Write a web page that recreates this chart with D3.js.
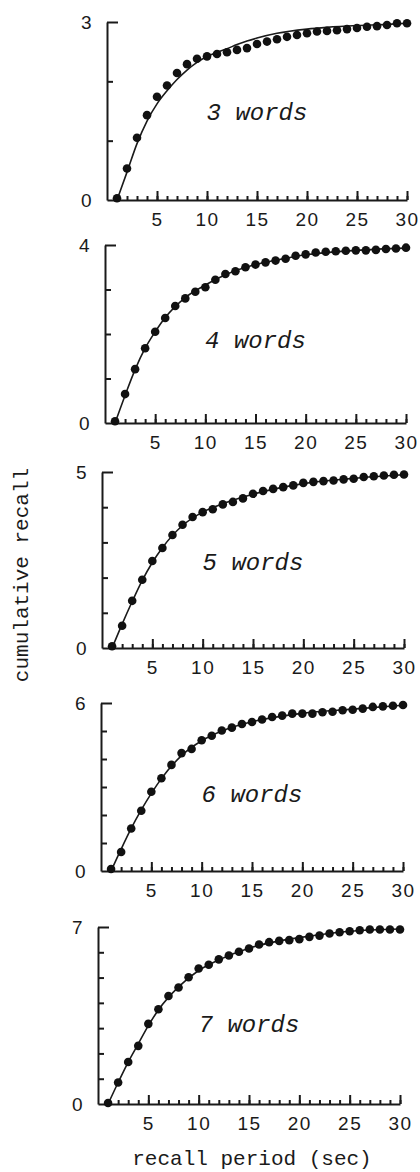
<!DOCTYPE html>
<html lang="en">
<head>
<meta charset="utf-8">
<title>cumulative recall</title>
<script src="https://d3js.org/d3.v7.min.js"></script>
<style>
  body { margin: 0; background: #fff; }
  svg { display: block; }
  .axis path, .axis line { stroke: #1a1a1a; stroke-width: 2px; }
  .axis text { font-family: "Liberation Sans", Arial, sans-serif; font-size: 19px; fill: #1a1a1a; letter-spacing: 1.5px; }
  .fit { fill: none; stroke: #1a1a1a; stroke-width: 1.6px; }
  .dot { fill: #111; }
  .words { font-family: "Liberation Mono", monospace; font-style: italic; font-size: 24px; fill: #1a1a1a; }
  .title { font-family: "Liberation Mono", monospace; font-size: 21px; fill: #1a1a1a; }
</style>
</head>
<body>
<svg width="420" height="1172"></svg>
<script>
// recall period, seconds
var seconds = d3.range(1, 31);
var xTicks = [5, 10, 15, 20, 25, 30];
var listLengths = [3, 4, 5, 6, 7];

// observed cumulative recall (dots), one value per second
var recall3 = [0.03, 0.53, 1.05, 1.43, 1.74, 1.93, 2.14, 2.29, 2.38, 2.42, 2.46, 2.49, 2.53, 2.56, 2.63,
               2.67, 2.71, 2.75, 2.78, 2.81, 2.84, 2.85, 2.86, 2.88, 2.90, 2.92, 2.93, 2.95, 2.98, 2.98];
var recall4 = [0.04, 0.65, 1.21, 1.68, 2.05, 2.36, 2.63, 2.80, 2.95, 3.05, 3.22, 3.35, 3.41, 3.50, 3.56,
               3.61, 3.65, 3.69, 3.76, 3.79, 3.83, 3.85, 3.86, 3.87, 3.88, 3.88, 3.89, 3.91, 3.92, 3.94];
var recall5 = [0.05, 0.63, 1.34, 1.94, 2.47, 2.84, 3.21, 3.50, 3.72, 3.86, 3.94, 4.08, 4.15, 4.25, 4.38,
               4.46, 4.52, 4.57, 4.62, 4.69, 4.72, 4.74, 4.76, 4.79, 4.81, 4.86, 4.88, 4.90, 4.92, 4.93];
var recall6 = [0.07, 0.68, 1.52, 2.15, 2.83, 3.31, 3.79, 4.21, 4.36, 4.67, 4.83, 5.02, 5.12, 5.25, 5.32,
               5.41, 5.50, 5.55, 5.62, 5.62, 5.62, 5.67, 5.69, 5.74, 5.76, 5.80, 5.86, 5.88, 5.90, 5.93];
var recall7 = [0.04, 0.85, 1.66, 2.30, 3.17, 3.75, 4.27, 4.61, 5.01, 5.36, 5.51, 5.72, 5.87, 6.02, 6.15,
               6.31, 6.40, 6.45, 6.48, 6.52, 6.61, 6.66, 6.74, 6.79, 6.83, 6.87, 6.90, 6.90, 6.90, 6.90];

// fitted curve, read at a few points
var fitX3 = [1, 2, 3, 4, 5, 6, 7, 8, 9, 10, 11, 12, 13, 14, 15, 17, 20, 22, 25, 28, 30];
var fit3  = [0, 0.47, 0.95, 1.33, 1.62, 1.84, 2.03, 2.19, 2.32, 2.42, 2.49, 2.55, 2.62, 2.68, 2.73,
             2.81, 2.88, 2.91, 2.94, 2.96, 2.98];
var fitX  = [1, 2, 3, 4, 5, 6, 8, 10, 12, 15, 18, 20, 25, 30];
var fit4  = [0, 0.62, 1.2, 1.68, 2.05, 2.37, 2.82, 3.1, 3.33, 3.56, 3.7, 3.78, 3.88, 3.93];
var fit5  = [0, 0.68, 1.32, 1.92, 2.43, 2.85, 3.48, 3.86, 4.1, 4.37, 4.57, 4.67, 4.82, 4.92];
var fit6  = [0, 0.78, 1.52, 2.18, 2.77, 3.3, 4.12, 4.65, 5.0, 5.33, 5.53, 5.63, 5.78, 5.92];
var fit7  = [0, 0.85, 1.66, 2.38, 3.1, 3.72, 4.63, 5.28, 5.7, 6.16, 6.45, 6.58, 6.83, 6.92];

var recalls = [recall3, recall4, recall5, recall6, recall7];
var fitXs = [fitX3, fitX, fitX, fitX, fitX];
var fits = [fit3, fit4, fit5, fit6, fit7];

// panel placement (the scan drifts a little to the left going down)
var panelX0  = [107, 105, 102, 101, 98];
var panelX30 = [407, 406, 404, 403, 400];
var panelTop = [22, 245, 472, 703, 927];
var panelBot = [200, 423, 648, 871, 1104];
var labelY   = [120, 348, 570, 802, 1032];

var svg = d3.select("svg");

listLengths.forEach(function(n, i){
  var x = d3.scaleLinear().domain([0, 30]).range([panelX0[i], panelX30[i]]);
  var y = d3.scaleLinear().domain([0, n]).range([panelBot[i], panelTop[i]]);
  var g = svg.append("g");

  // x axis: minor ticks every second, major every five
  g.append("g").attr("class", "axis")
      .attr("transform", "translate(0," + panelBot[i] + ")")
      .call(d3.axisBottom(x).tickValues(seconds).tickSizeInner(-4).tickSizeOuter(0).tickFormat(""));
  g.append("g").attr("class", "axis")
      .attr("transform", "translate(0," + panelBot[i] + ")")
      .call(d3.axisBottom(x).tickValues(xTicks).tickSizeInner(-9).tickSizeOuter(0).tickPadding(13))
      .select(".domain").remove();

  // y axis: inward ticks, only 0 and max labelled, cap at top
  var ya = g.append("g").attr("class", "axis")
      .attr("transform", "translate(" + panelX0[i] + ",0)")
      .call(d3.axisLeft(y).tickValues(d3.range(0, n + 1)).tickSizeInner(-6).tickSizeOuter(0).tickPadding(14)
        .tickFormat(function(d){ return (d === 0 || d === n) ? d : ""; }));
  ya.selectAll(".tick").filter(function(d){ return d === n; }).select("line").attr("x2", 11);
  ya.selectAll(".tick").filter(function(d){ return d === 0; }).select("line").remove();

  // fitted curve
  var line = d3.line()
      .x(function(d){ return x(d[0]); })
      .y(function(d){ return y(d[1]); })
      .curve(d3.curveMonotoneX);
  g.append("path").attr("class", "fit")
      .attr("d", line(d3.zip(fitXs[i], fits[i])));

  // observed dots
  g.selectAll("circle").data(d3.zip(seconds, recalls[i])).enter().append("circle")
      .attr("class", "dot")
      .attr("cx", function(d){ return x(d[0]); })
      .attr("cy", function(d){ return y(d[1]); })
      .attr("r", 4.3);

  g.append("text").attr("class", "words")
      .attr("x", x(15)).attr("y", labelY[i])
      .attr("text-anchor", "middle")
      .text(n + " words");
});

svg.append("text").attr("class", "title")
    .attr("transform", "translate(28,575) rotate(-90)")
    .attr("text-anchor", "middle")
    .text("cumulative recall");

svg.append("text").attr("class", "title")
    .attr("x", 252).attr("y", 1165)
    .attr("text-anchor", "middle")
    .text("recall period (sec)");
</script>
</body>
</html>
